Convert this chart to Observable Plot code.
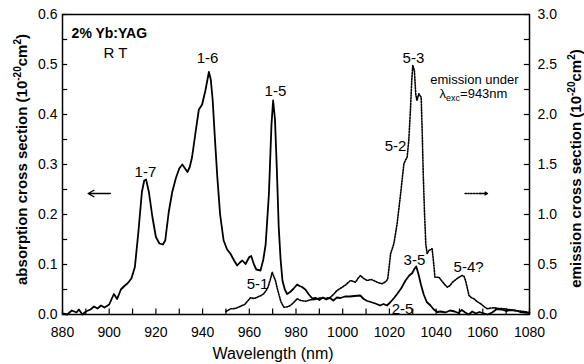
<!DOCTYPE html>
<html><head><meta charset="utf-8">
<script src="https://cdn.jsdelivr.net/npm/d3@7"></script>
<script src="https://cdn.jsdelivr.net/npm/@observablehq/plot@0.6"></script>
<style>
body{margin:0;background:#fff}
#chart svg{font-family:"Liberation Sans",Arial,Helvetica,sans-serif}
</style>
</head><body><div id="chart"></div>
<script>
// ---- absorption cross section (left axis, 10^-20 cm^2) ----
const absWl = [880,882,884,886,887,888.5,890,892,893.5,895,896.5,898,900,902,903.4,905,906.5,908,909.5,911,912.5,914,915,915.8,917,918.5,920,921.5,923,924,925.5,927,928.5,930,931.3,932.5,933.5,934.5,935.5,937,938.4,939.8,941.2,942.7,943.5,944.3,945.3,946.3,947.5,949,950.5,952,953.5,954.8,956,957,958.4,960,960.8,962,963,964.8,966,967,968.4,969.5,970.2,971,971.8,972.6,973.4,974.2,975.2,976.2,977.5,979,980.5,981.5,982.6,984,985.5,987,988.5,990,991.5,993,994.5,996,997.5,999,1001,1003,1005,1007.5,1009,1010.5,1012,1014,1016,1017.5,1019,1020.5,1022,1023.3,1025,1026.9,1028.5,1029.8,1030.8,1031.5,1032.5,1033.5,1034.7,1036,1037.6,1039,1040.5,1042,1044,1046,1048,1049.5,1051,1052.5,1054,1055.5,1057,1058.5,1060,1062,1064,1066,1068,1070,1072,1074,1076,1078,1080];
const absVal = [0.002,0.0,0.008,0.004,0.010,0.0,0.006,0.010,0.016,0.012,0.018,0.014,0.020,0.041,0.031,0.050,0.057,0.063,0.072,0.095,0.165,0.245,0.268,0.270,0.245,0.195,0.155,0.142,0.140,0.148,0.205,0.245,0.272,0.292,0.300,0.292,0.285,0.295,0.315,0.365,0.410,0.420,0.448,0.485,0.470,0.430,0.350,0.275,0.200,0.148,0.130,0.121,0.108,0.098,0.104,0.108,0.101,0.115,0.117,0.100,0.090,0.088,0.110,0.140,0.241,0.380,0.428,0.390,0.290,0.175,0.110,0.068,0.050,0.041,0.045,0.052,0.060,0.057,0.055,0.050,0.040,0.032,0.033,0.029,0.034,0.030,0.033,0.028,0.034,0.033,0.036,0.036,0.037,0.038,0.031,0.027,0.025,0.022,0.018,0.021,0.018,0.025,0.033,0.041,0.052,0.068,0.078,0.083,0.092,0.096,0.080,0.060,0.040,0.025,0.018,0.010,0.005,0.006,0.004,0.008,0.006,0.003,0.009,0.004,0.000,0.006,0.002,0.005,0.003,0.000,0.004,0.011,0.010,0.007,0.009,0.008,0.005,0.004,0.003];

// ---- emission cross section (right axis, 10^-20 cm^2), excitation 943 nm ----
const emWl = [950,952,954,956,958,960.5,962,963.4,965,966.2,967.2,968,969,969.8,970.5,971.2,972,972.6,973.5,974.8,976,977.6,979,980.5,982,984.1,986.2,988,990.5,992.5,994.8,996,997.6,999.8,1001.5,1003.3,1005.5,1006.5,1007.6,1009,1010.5,1012,1013.3,1015,1016.9,1018.5,1019.3,1020,1020.5,1021.9,1023.3,1024.8,1026.2,1027,1027.6,1028.3,1029,1029.6,1030,1030.7,1031.3,1031.8,1032.6,1033.6,1034,1034.5,1035,1035.6,1036.2,1036.9,1038.3,1038.8,1039.5,1041.2,1042.3,1043.4,1044.8,1046,1047,1048.5,1049.8,1051.2,1052,1052.6,1053.4,1054.1,1055,1056.2,1057.5,1059.1,1060.5,1061.9,1063.5,1064.8,1067,1069.1,1071,1073.4,1076,1079.1,1080];
const emVal = [0.03,0.057,0.06,0.08,0.10,0.167,0.16,0.173,0.19,0.207,0.24,0.273,0.35,0.423,0.38,0.34,0.26,0.207,0.13,0.073,0.075,0.09,0.12,0.157,0.14,0.133,0.147,0.15,0.167,0.16,0.173,0.2,0.24,0.273,0.30,0.34,0.323,0.36,0.39,0.36,0.34,0.35,0.34,0.32,0.307,0.33,0.357,0.50,0.607,0.707,0.907,1.207,1.507,1.55,1.573,1.74,2.04,2.35,2.49,2.44,2.2,2.14,2.207,2.173,1.873,1.4,1.04,0.70,0.607,0.64,0.657,0.55,0.373,0.373,0.34,0.307,0.273,0.29,0.323,0.35,0.373,0.39,0.38,0.34,0.26,0.19,0.17,0.157,0.13,0.107,0.08,0.057,0.065,0.067,0.06,0.057,0.05,0.04,0.035,0.023,0.02];

// ---- axes ----
const xTicks = [880,900,920,940,960,980,1000,1020,1040,1060,1080];
const xMinorTicks = d3.range(880, 1081, 10);
const yLeftTicks = [0,0.1,0.2,0.3,0.4,0.5,0.6];
const yLeftMinor = d3.range(0, 0.601, 0.05);
const yRightTicks = [0,0.5,1.0,1.5,2.0,2.5,3.0];
const yRightMinor = d3.range(0, 3.001, 0.25);
const rightToLeft = 5; // right axis max 3.0 vs left axis max 0.6

// ---- annotations (data coordinates: wavelength nm, absorption units) ----
const peakLabels = ["1-7","1-6","1-5","5-3","5-2","5-1","3-5","5-4?","2-5"];
const peakLabelWl = [915.5,942.1,971.2,1030.3,1022.6,963.5,1030.7,1053.9,1025.6];
const peakLabelVal = [0.284,0.512,0.446,0.512,0.336,0.060,0.108,0.094,0.010];
const noteTexts = ["emission under","λ_{exc}=943nm"];
const noteWl = [1056.4,1056.0];
const noteVal = [0.469,0.441];
const sampleText = "2% Yb:YAG";
const tempText = "R T";

const absData = absWl.map((w,i)=>({w, v: absVal[i]}));
const emData = emWl.map((w,i)=>({w, v: emVal[i]/rightToLeft}));
const peaks = peakLabels.map((t,i)=>({t, w: peakLabelWl[i], v: peakLabelVal[i]}));
const notes = noteTexts.map((t,i)=>({t, w: noteWl[i], v: noteVal[i]}));

const chart = Plot.plot({
  width: 584, height: 364,
  marginLeft: 62, marginRight: 55, marginTop: 14, marginBottom: 50,
  style: {fontFamily: '"Liberation Sans", Arial, sans-serif', color: "black", background: "white"},
  x: {domain: [880,1080]},
  y: {domain: [0,0.6]},
  marks: [
    Plot.frame({stroke: "black", strokeWidth: 1.5}),
    // inward ticks
    Plot.ruleX(xMinorTicks, {x: d=>d, y1: 0, y2: 0.011, stroke: "black", strokeWidth: 1.2}),
    Plot.ruleY(yLeftMinor, {y: d=>d, x1: 880, x2: 882.2, stroke: "black", strokeWidth: 1.2}),
    Plot.ruleY(yRightMinor, {y: d=>d/rightToLeft, x1: 1077.8, x2: 1080, stroke: "black", strokeWidth: 1.2}),
    // axis labels
    Plot.axisX(xTicks, {anchor: "bottom", tickSize: 0, tickPadding: 13, fontSize: 14, tickFormat: d3.format("d"), label: null}),
    Plot.axisY(yLeftTicks, {anchor: "left", tickSize: 0, tickPadding: 5, fontSize: 14, tickFormat: d3.format(".1f"), label: null}),
    Plot.axisY(yRightTicks.map(d=>d/rightToLeft), {anchor: "right", tickSize: 0, tickPadding: 8, fontSize: 14, tickFormat: d => (d*rightToLeft).toFixed(1), label: null}),
    // curves
    Plot.line(emData, {x: "w", y: "v", stroke: "black", strokeWidth: 1.6, strokeDasharray: "1.4,1.4"}),
    Plot.line(absData, {x: "w", y: "v", stroke: "black", strokeWidth: 1.8}),
    // arrows
    Plot.arrow([{x1: 900.5, x2: 891, y: 0.242}], {x1: "x1", x2: "x2", y1: "y", y2: "y", stroke: "black", strokeWidth: 1.4, headLength: 7}),
    Plot.line([{w: 1052.4, v: 0.242},{w: 1059.5, v: 0.242}], {x: "w", y: "v", stroke: "black", strokeWidth: 1.4, strokeDasharray: "1.4,1.4"}),
    Plot.arrow([{x1: 1058.5, x2: 1062, y: 0.242}], {x1: "x1", x2: "x2", y1: "y", y2: "y", stroke: "black", strokeWidth: 1.4, headLength: 7}),
    // annotations
    Plot.text(peaks, {x: "w", y: "v", text: "t", fontSize: 15, fill: "black"}),
    Plot.text(notes, {x: "w", y: "v", text: "t", fontSize: 13, fill: "black"}),
    Plot.text([sampleText], {x: 883.9, y: 0.562, text: d=>d, fontSize: 14, fontWeight: "bold", textAnchor: "start", fill: "black"}),
    Plot.text([tempText], {x: 902.7, y: 0.522, text: d=>d, fontSize: 15, fill: "black"}),
    // axis titles
    Plot.text(["absorption cross section (10^{-20}cm^{2})"], {frameAnchor: "left", textAnchor: "middle", text: d=>d, rotate: -90, dx: -40, dy: -5, fontSize: 15, fontWeight: "bold", fill: "black"}),
    Plot.text(["emission cross section (10^{-20}cm^{2})"], {frameAnchor: "right", textAnchor: "middle", text: d=>d, rotate: -90, dx: 47, dy: 4, fontSize: 15, fontWeight: "bold", fill: "black"}),
    Plot.text(["Wavelength (nm)"], {frameAnchor: "bottom", text: d=>d, dx: -23, dy: 44, fontSize: 16, fill: "black"})
  ]
});
document.getElementById("chart").appendChild(chart);

// super/subscript rendering with tspans
chart.querySelectorAll("text").forEach(el => {
  const s = el.textContent;
  if (!/[\^_]\{/.test(s)) return;
  const parts = s.split(/([\^_]\{[^}]*\})/).filter(p => p.length);
  while (el.firstChild) el.removeChild(el.firstChild);
  const NS = "http://www.w3.org/2000/svg";
  let shift = 0;
  parts.forEach(p => {
    const t = document.createElementNS(NS, "tspan");
    let target = 0;
    if (p.startsWith("^{")) { t.textContent = p.slice(2,-1); target = -6; t.setAttribute("font-size", "10"); }
    else if (p.startsWith("_{")) { t.textContent = p.slice(2,-1); target = 3; t.setAttribute("font-size", "9"); }
    else { t.textContent = p; }
    if (target !== shift) { t.setAttribute("dy", target - shift); shift = target; }
    el.appendChild(t);
  });
});
</script>
</body></html>
